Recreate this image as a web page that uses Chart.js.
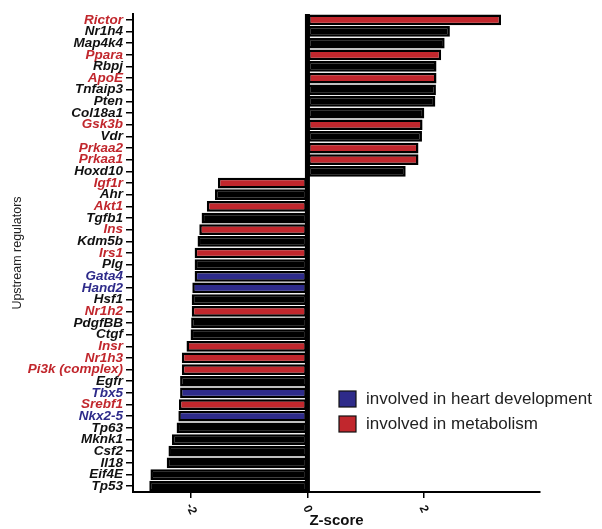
<!DOCTYPE html>
<html>
<head>
<meta charset="utf-8">
<script src="https://cdn.jsdelivr.net/npm/chart.js@4/dist/chart.umd.min.js"></script>
<style>
  html, body { margin: 0; padding: 0; background: #fff; }
  #wrap { width: 602px; height: 529px; }
</style>
</head>
<body>
<div id="wrap"><canvas id="c" width="602" height="529"></canvas></div>
<script>
const regulators = ["Rictor","Nr1h4","Map4k4","Ppara","Rbpj","ApoE","Tnfaip3","Pten","Col18a1","Gsk3b","Vdr","Prkaa2","Prkaa1","Hoxd10","Igf1r","Ahr","Akt1","Tgfb1","Ins","Kdm5b","Irs1","Plg","Gata4","Hand2","Hsf1","Nr1h2","PdgfBB","Ctgf","Insr","Nr1h3","Pi3k (complex)","Egfr","Tbx5","Srebf1","Nkx2-5","Tp63","Mknk1","Csf2","Il18","Eif4E","Tp53"];
const zScores = [3.33,2.45,2.36,2.30,2.22,2.22,2.21,2.20,2.01,1.98,1.97,1.91,1.91,1.69,-1.54,-1.59,-1.73,-1.82,-1.86,-1.89,-1.94,-1.94,-1.94,-1.98,-1.99,-1.99,-2.00,-2.01,-2.08,-2.16,-2.16,-2.19,-2.19,-2.21,-2.22,-2.25,-2.33,-2.39,-2.42,-2.70,-2.72];
const groups = ["m","o","o","m","o","m","o","o","o","m","o","m","m","o","m","o","m","o","m","o","m","o","h","h","o","m","o","o","m","m","m","o","h","m","h","o","o","o","o","o","o"];
const xTicks = [-2, 0, 2];
const legendItems = [["h","involved in heart development"],["m","involved in metabolism"]];

const palette = { h: "#2e2b8a", m: "#c1272d", o: "#000000" };
const labelPalette = { h: "#2e2b8a", m: "#c1272d", o: "#111111" };

const overlay = {
  id: "overlay",
  afterDatasetsDraw(chart) {
    const ctx = chart.ctx, x = chart.scales.x, area = chart.chartArea;
    const x0 = x.getPixelForValue(0);
    ctx.save();
    ctx.fillStyle = "#000";
    ctx.fillRect(x0 - 2.5, area.top, 5, area.bottom - area.top);
    ctx.restore();
  },
  afterDraw(chart) {
    const ctx = chart.ctx, x = chart.scales.x;
    ctx.save();
    ctx.fillStyle = "#111";
    ctx.font = "bold 12px 'Liberation Sans', Arial, sans-serif";
    ctx.textAlign = "center";
    ctx.textBaseline = "middle";
    x.ticks.forEach(t => {
      const px = x.getPixelForValue(t.value);
      ctx.save();
      ctx.translate(px, 509);
      ctx.rotate(Math.PI / 180 * 65);
      ctx.fillText(String(t.value), 0, 0);
      ctx.restore();
    });
    const lx = 339, ly = [391, 416];
    ctx.font = "17px 'Liberation Sans', Arial, sans-serif";
    ctx.textAlign = "left";
    ctx.textBaseline = "middle";
    legendItems.forEach((it, i) => {
      ctx.fillStyle = palette[it[0]];
      ctx.fillRect(lx, ly[i], 17, 16);
      ctx.strokeStyle = "#111";
      ctx.lineWidth = 1.2;
      ctx.strokeRect(lx, ly[i], 17, 16);
      ctx.fillStyle = "#222";
      ctx.fillText(it[1], 366, ly[i] + 8.5);
    });
    ctx.restore();
  }
};

new Chart(document.getElementById("c"), {
  type: "bar",
  data: {
    labels: regulators,
    datasets: [{
      data: zScores,
      backgroundColor: groups.map(g => palette[g]),
      borderColor: "#000",
      borderWidth: 2.5,
      borderSkipped: false,
      barPercentage: 0.92,
      categoryPercentage: 1.0
    }]
  },
  options: {
    indexAxis: "y",
    responsive: false,
    animation: false,
    devicePixelRatio: 1,
    layout: { padding: { left: 6, right: 62, top: 14, bottom: 0 } },
    plugins: { legend: { display: false }, tooltip: { enabled: false } },
    scales: {
      x: {
        min: -3, max: 4,
        afterBuildTicks(scale) { scale.ticks = xTicks.map(v => ({ value: v })); },
        afterFit(scale) { scale.height = 37; },
        grid: { drawOnChartArea: false, drawTicks: true, tickLength: 6, color: "#000", lineWidth: 1.5 },
        border: { display: true, color: "#000", width: 2 },
        ticks: { color: "rgba(0,0,0,0)", font: { size: 12, weight: "bold" }, maxRotation: 0, minRotation: 0, padding: 2 },
        title: {
          display: true, text: "Z-score", color: "#111",
          font: { family: "'Liberation Sans', Arial, sans-serif", size: 15, weight: "bold" },
          padding: { top: 0, bottom: -1 }
        }
      },
      y: {
        afterFit(scale) { scale.width = 127; },
        grid: { offset: false, drawOnChartArea: false, drawTicks: true, tickLength: 7, color: "#000", lineWidth: 1.5 },
        border: { display: true, color: "#000", width: 2 },
        ticks: {
          autoSkip: false,
          padding: 3,
          color: ctx => labelPalette[groups[ctx.index]],
          font: { family: "'Liberation Sans', Arial, sans-serif", size: 13.5, weight: "bold", style: "italic" }
        },
        title: {
          display: true, text: "Upstream regulators", color: "#222",
          font: { family: "'Liberation Sans', Arial, sans-serif", size: 12.5 },
          padding: { top: 4, bottom: 0 }
        }
      }
    }
  },
  plugins: [overlay]
});
</script>
</body>
</html>
